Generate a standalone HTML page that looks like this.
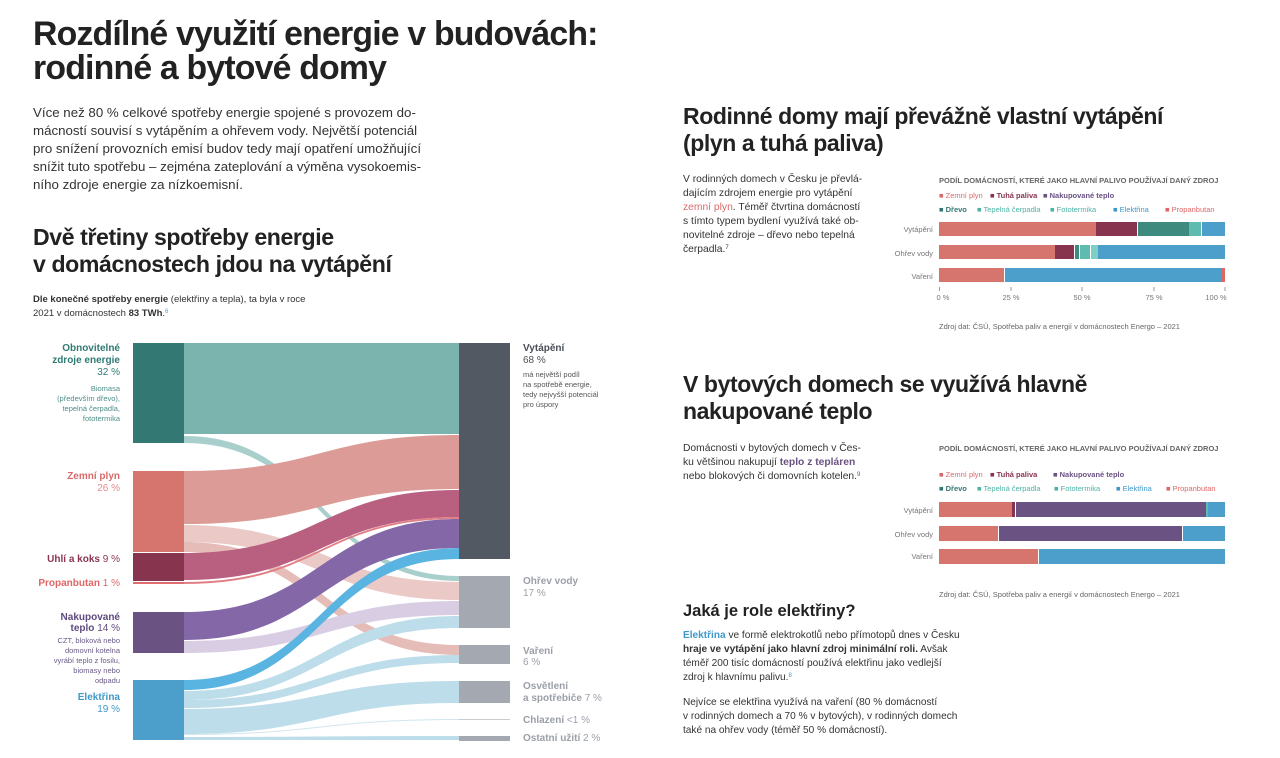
<!DOCTYPE html>
<html><head><meta charset="utf-8"><style>
html,body{margin:0;padding:0;background:#fff;}
body{width:1280px;height:758px;overflow:hidden;position:relative;font-family:"Liberation Sans",sans-serif;color:#222;}
svg{position:absolute;left:0;top:0;}
text{font-family:"Liberation Sans",sans-serif;}
</style></head><body>
<svg width="1280" height="758" viewBox="0 0 1280 758">
<text x="33" y="45" font-size="33.8" font-weight="bold" fill="#222" letter-spacing="-0.8">Rozdílné využití energie v budovách:</text>
<text x="33" y="79" font-size="33.8" font-weight="bold" fill="#222" letter-spacing="-0.8">rodinné a bytové domy</text>
<g font-size="13.3" fill="#333">
<text x="33" y="117">Více než 80 % celkové spotřeby energie spojené s provozem do-</text>
<text x="33" y="135">mácností souvisí s vytápěním a ohřevem vody. Největší potenciál</text>
<text x="33" y="153">pro snížení provozních emisí budov tedy mají opatření umožňující</text>
<text x="33" y="171">snížit tuto spotřebu – zejména zateplování a výměna vysokoemis-</text>
<text x="33" y="189">ního zdroje energie za nízkoemisní.</text>
</g>
<text x="33" y="245" font-size="23.1" font-weight="bold" fill="#222" letter-spacing="-0.4">Dvě třetiny spotřeby energie</text>
<text x="33" y="272" font-size="23.1" font-weight="bold" fill="#222" letter-spacing="-0.4">v domácnostech jdou na vytápění</text>
<text x="33" y="302" font-size="9.5" fill="#333"><tspan font-weight="bold">Dle konečné spotřeby energie</tspan> (elektřiny a tepla), ta byla v roce</text>
<text x="33" y="316" font-size="9.5" fill="#333">2021 v domácnostech <tspan font-weight="bold">83 TWh</tspan>.<tspan fill="#4aa0d0" font-size="6" dy="-3">6</tspan></text>

<g>
<path d="M184,436 C321,436 321,576 459,576 L459,581 C321,581 321,443 184,443Z" fill="#a9cfcc"/>
<path d="M184,525 C321,525 321,582 459,582 L459,600 C321,600 321,542 184,542Z" fill="#ebc9c6"/>
<path d="M184,542 C321,542 321,645 459,645 L459,655 C321,655 321,552 184,552Z" fill="#e6bcb8"/>
<path d="M184,641 C321,641 321,601 459,601 L459,615 C321,615 321,653 184,653Z" fill="#d8cde3"/>
<path d="M184,691 C321,691 321,616 459,616 L459,628 C321,628 321,700 184,700Z" fill="#bcdde9"/>
<path d="M184,700 C321,700 321,655 459,655 L459,663 C321,663 321,708 184,708Z" fill="#bcdde9"/>
<path d="M184,709 C321,709 321,681 459,681 L459,703 C321,703 321,734 184,734Z" fill="#bcdde9"/>
<path d="M184,737 C321,737 321,736 459,736 L459,740 C321,740 321,740 184,740Z" fill="#bcdde9"/>
<path d="M184,734 C321,734 321,719 459,719 L459,720 C321,720 321,735 184,735Z" fill="#d0e6ee"/>
<path d="M184,343 L459,343 L459,434 L184,434Z" fill="#7bb3af"/>
<path d="M184,471 C321,471 321,435 459,435 L459,489 C321,489 321,524 184,524Z" fill="#dc9b97"/>
<path d="M184,553 C321,553 321,490 459,490 L459,517 C321,517 321,580 184,580Z" fill="#b95f7f"/>
<path d="M184,582 C321,582 321,517 459,517 L459,519 C321,519 321,584 184,584Z" fill="#e07f86"/>
<path d="M184,612 C321,612 321,519 459,519 L459,548 C321,548 321,640 184,640Z" fill="#8467a6"/>
<path d="M184,680 C321,680 321,548 459,548 L459,559 C321,559 321,690 184,690Z" fill="#5ab4e1"/>
</g>
<rect x="133" y="343" width="51" height="100" fill="#337872"/>
<rect x="133" y="471" width="51" height="81" fill="#d5756e"/>
<rect x="133" y="553" width="51" height="28" fill="#87344f"/>
<rect x="133" y="582" width="51" height="2" fill="#e06c70"/>
<rect x="133" y="612" width="51" height="41" fill="#6a5283"/>
<rect x="133" y="680" width="51" height="60" fill="#4c9fca"/>
<rect x="459" y="343" width="51" height="216" fill="#525963"/>
<rect x="459" y="576" width="51" height="52" fill="#a4a8b0"/>
<rect x="459" y="645" width="51" height="19" fill="#a4a8b0"/>
<rect x="459" y="681" width="51" height="22" fill="#a4a8b0"/>
<rect x="459" y="719" width="51" height="1" fill="#c8cbd0"/>
<rect x="459" y="736" width="51" height="5" fill="#a4a8b0"/>

<g text-anchor="end" font-size="10">
<text x="120" y="351" font-weight="bold" fill="#2f7a72">Obnovitelné</text>
<text x="120" y="363" font-weight="bold" fill="#2f7a72">zdroje energie</text>
<text x="120" y="375" fill="#2f7a72">32 %</text>
<g font-size="7.5" fill="#4f8f89"><text x="120" y="391">Biomasa</text><text x="120" y="401">(především dřevo),</text><text x="120" y="411">tepelná čerpadla,</text><text x="120" y="421">fototermika</text></g>
<text x="120" y="479" font-weight="bold" fill="#d96a6a">Zemní plyn</text>
<text x="120" y="491" fill="#e58c8c">26 %</text>
<text x="120" y="562" fill="#8a3552"><tspan font-weight="bold">Uhlí a koks</tspan> 9 %</text>
<text x="120" y="586" fill="#e06666"><tspan font-weight="bold">Propanbutan</tspan> 1 %</text>
<text x="120" y="620" font-weight="bold" fill="#5e4a7e">Nakupované</text>
<text x="120" y="631" fill="#5e4a7e"><tspan font-weight="bold">teplo</tspan> 14 %</text>
<g font-size="7.5" fill="#6a5a86"><text x="120" y="643">CZT, bloková nebo</text><text x="120" y="653">domovní kotelna</text><text x="120" y="663">vyrábí teplo z fosilu,</text><text x="120" y="673">biomasy nebo</text><text x="120" y="683">odpadu</text></g>
<text x="120" y="700" font-weight="bold" fill="#3f98c8">Elektřina</text>
<text x="120" y="712" fill="#3f98c8">19 %</text>
</g>
<g font-size="10">
<text x="523" y="351" font-weight="bold" fill="#4a4f57">Vytápění</text>
<text x="523" y="363" fill="#4a4f57">68 %</text>
<g font-size="7.5" fill="#555"><text x="523" y="377">má největší podíl</text><text x="523" y="387">na spotřebě energie,</text><text x="523" y="397">tedy nejvyšší potenciál</text><text x="523" y="407">pro úspory</text></g>
<text x="523" y="584" font-weight="bold" fill="#9a9fa8">Ohřev vody</text>
<text x="523" y="596" fill="#9a9fa8">17 %</text>
<text x="523" y="654" font-weight="bold" fill="#9a9fa8">Vaření</text>
<text x="523" y="665" fill="#9a9fa8">6 %</text>
<text x="523" y="689" font-weight="bold" fill="#9a9fa8">Osvětlení</text>
<text x="523" y="701" fill="#9a9fa8"><tspan font-weight="bold">a spotřebiče</tspan> 7 %</text>
<text x="523" y="723" fill="#9a9fa8"><tspan font-weight="bold">Chlazení</tspan> &lt;1 %</text>
<text x="523" y="741" fill="#9a9fa8"><tspan font-weight="bold">Ostatní užití</tspan> 2 %</text>
</g>

<text x="683" y="124" font-size="23" font-weight="bold" fill="#222" letter-spacing="-0.4">Rodinné domy mají převážně vlastní vytápění</text>
<text x="683" y="151" font-size="23" font-weight="bold" fill="#222" letter-spacing="-0.4">(plyn a tuhá paliva)</text>
<g font-size="10.3" fill="#333">
<text x="683" y="182">V rodinných domech v Česku je převlá-</text>
<text x="683" y="196">dajícím zdrojem energie pro vytápění</text>
<text x="683" y="210"><tspan fill="#d96a6a">zemní plyn</tspan>. Téměř čtvrtina domácností</text>
<text x="683" y="224">s tímto typem bydlení využívá také ob-</text>
<text x="683" y="238">novitelné zdroje – dřevo nebo tepelná</text>
<text x="683" y="252">čerpadla.<tspan font-size="6" dy="-3">7</tspan></text>
</g>
<text x="939" y="183" font-size="7.5" font-weight="bold" fill="#666">PODÍL DOMÁCNOSTÍ, KTERÉ JAKO HLAVNÍ PALIVO POUŽÍVAJÍ DANÝ ZDROJ</text>
<g font-size="7.5">
<text x="939" y="198" fill="#d96a6a">■ Zemní plyn</text>
<text x="990" y="198" fill="#87344f" font-weight="bold">■ Tuhá paliva</text>
<text x="1043" y="198" fill="#6a5283" font-weight="bold">■ Nakupované teplo</text>
<text x="939" y="212" fill="#337872" font-weight="bold">■ Dřevo</text>
<text x="977" y="212" fill="#4db3a5">■ Tepelná čerpadla</text>
<text x="1050" y="212" fill="#4db3a5">■ Fototermika</text>
<text x="1113" y="212" fill="#3f98c8">■ Elektřina</text>
<text x="1165" y="212" fill="#e06666">■ Propanbutan</text>
</g>
<g font-size="7.5" fill="#777" text-anchor="end">
<text x="933" y="232">Vytápění</text><text x="933" y="256">Ohřev vody</text><text x="933" y="279">Vaření</text>
</g>
<g>
<rect x="939" y="222" width="157" height="14" fill="#d5756e"/>
<rect x="1096" y="222" width="41" height="14" fill="#87344f"/>
<rect x="1138" y="222" width="51" height="14" fill="#3f8a7e"/>
<rect x="1189" y="222" width="12" height="14" fill="#5dbbb0"/>
<rect x="1202" y="222" width="23" height="14" fill="#4c9fca"/>
<rect x="939" y="245" width="116" height="14" fill="#d5756e"/>
<rect x="1055" y="245" width="19" height="14" fill="#87344f"/>
<rect x="1075" y="245" width="4" height="14" fill="#3f8a7e"/>
<rect x="1080" y="245" width="10" height="14" fill="#5dbbb0"/>
<rect x="1091" y="245" width="7" height="14" fill="#7ccfc4"/>
<rect x="1098" y="245" width="127" height="14" fill="#4c9fca"/>
<rect x="939" y="268" width="65" height="14" fill="#d5756e"/>
<rect x="1005" y="268" width="216" height="14" fill="#4c9fca"/>
<rect x="1221" y="268" width="4" height="14" fill="#e06666"/>
</g>
<g stroke="#999" stroke-width="1"><line x1="939.5" y1="287" x2="939.5" y2="291"/><line x1="1011" y1="287" x2="1011" y2="291"/><line x1="1082" y1="287" x2="1082" y2="291"/><line x1="1154" y1="287" x2="1154" y2="291"/><line x1="1225" y1="287" x2="1225" y2="291"/></g>
<g font-size="7.5" fill="#777" text-anchor="middle"><text x="943" y="300">0 %</text><text x="1011" y="300">25 %</text><text x="1082" y="300">50 %</text><text x="1154" y="300">75 %</text><text x="1216" y="300">100 %</text></g>
<text x="939" y="329" font-size="7.5" fill="#666">Zdroj dat: ČSÚ, Spotřeba paliv a energií v domácnostech Energo – 2021</text>

<text x="683" y="392" font-size="23" font-weight="bold" fill="#222" letter-spacing="-0.4">V bytových domech se využívá hlavně</text>
<text x="683" y="419" font-size="23" font-weight="bold" fill="#222" letter-spacing="-0.4">nakupované teplo</text>
<g font-size="10.3" fill="#333">
<text x="683" y="451">Domácnosti v bytových domech v Čes-</text>
<text x="683" y="465">ku většinou nakupují <tspan fill="#6a5283" font-weight="bold">teplo z tepláren</tspan></text>
<text x="683" y="479">nebo blokových či domovních kotelen.<tspan font-size="6" dy="-3" fill="#6a5283">9</tspan></text>
</g>
<text x="939" y="451" font-size="7.5" font-weight="bold" fill="#666">PODÍL DOMÁCNOSTÍ, KTERÉ JAKO HLAVNÍ PALIVO POUŽÍVAJÍ DANÝ ZDROJ</text>
<g font-size="7.5">
<text x="939" y="477" fill="#d96a6a">■ Zemní plyn</text>
<text x="990" y="477" fill="#87344f" font-weight="bold">■ Tuhá paliva</text>
<text x="1053" y="477" fill="#6a5283" font-weight="bold">■ Nakupované teplo</text>
<text x="939" y="491" fill="#337872" font-weight="bold">■ Dřevo</text>
<text x="977" y="491" fill="#4db3a5">■ Tepelná čerpadla</text>
<text x="1054" y="491" fill="#4db3a5">■ Fototermika</text>
<text x="1116" y="491" fill="#3f98c8">■ Elektřina</text>
<text x="1166" y="491" fill="#e06666">■ Propanbutan</text>
</g>
<g font-size="7.5" fill="#777" text-anchor="end">
<text x="933" y="513">Vytápění</text><text x="933" y="537">Ohřev vody</text><text x="933" y="559">Vaření</text>
</g>
<g>
<rect x="939" y="502" width="73" height="15" fill="#d5756e"/>
<rect x="1012" y="502" width="3" height="15" fill="#87344f"/>
<rect x="1016" y="502" width="190" height="15" fill="#6a5283"/>
<rect x="1206" y="502" width="2" height="15" fill="#5dbbb0"/>
<rect x="1208" y="502" width="17" height="15" fill="#4c9fca"/>
<rect x="939" y="526" width="59" height="15" fill="#d5756e"/>
<rect x="999" y="526" width="183" height="15" fill="#6a5283"/>
<rect x="1183" y="526" width="42" height="15" fill="#4c9fca"/>
<rect x="939" y="549" width="99" height="15" fill="#d5756e"/>
<rect x="1039" y="549" width="186" height="15" fill="#4c9fca"/>
</g>
<text x="939" y="597" font-size="7.5" fill="#666">Zdroj dat: ČSÚ, Spotřeba paliv a energií v domácnostech Energo – 2021</text>

<text x="683" y="616" font-size="16.5" font-weight="bold" fill="#222">Jaká je role elektřiny?</text>
<g font-size="10.1" fill="#333">
<text x="683" y="638"><tspan fill="#3f98c8" font-weight="bold">Elektřina</tspan> ve formě elektrokotlů nebo přímotopů dnes v Česku</text>
<text x="683" y="652"><tspan font-weight="bold">hraje ve vytápění jako hlavní zdroj minimální roli.</tspan> Avšak</text>
<text x="683" y="666">téměř 200 tisíc domácností používá elektřinu jako vedlejší</text>
<text x="683" y="680">zdroj k hlavnímu palivu.<tspan font-size="6" dy="-3" fill="#3f98c8">8</tspan></text>
<text x="683" y="705">Nejvíce se elektřina využívá na vaření (80 % domácností</text>
<text x="683" y="719">v rodinných domech a 70 % v bytových), v rodinných domech</text>
<text x="683" y="733">také na ohřev vody (téměř 50 % domácností).</text>
</g>
</svg>
</body></html>
